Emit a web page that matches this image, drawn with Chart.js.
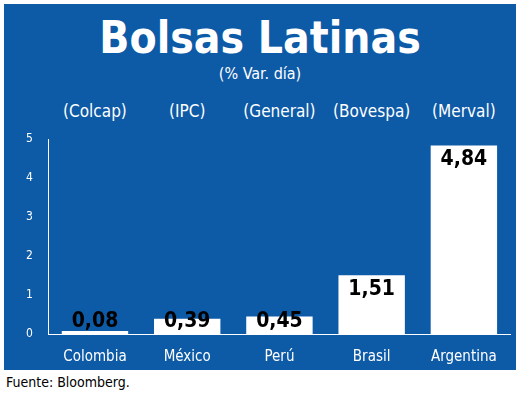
<!DOCTYPE html>
<html><head><meta charset="utf-8">
<script src="https://cdn.jsdelivr.net/npm/chart.js@4/dist/chart.umd.min.js"></script>
<style>
body{margin:0;background:#fff;font-family:"DejaVu Sans Condensed","Liberation Sans",sans-serif}
#box{position:absolute;left:4px;top:4px;width:512px;height:366px;background:#0d5aa7}
.t{position:absolute;width:100%;text-align:center;color:#fff}
#title{top:8px;font-size:44px;font-weight:bold}
#sub{top:60px;font-size:16px}
.idx{position:absolute;top:97px;color:#fff;font-size:17px;transform:translateX(-50%)}
#wrap{position:absolute;left:0;top:120px;width:512px;height:248px}
#src{position:absolute;left:6px;top:374px;font-size:14px;color:#000}
</style></head><body>
<div id="box">
<div class="t" id="title">Bolsas Latinas</div>
<div class="t" id="sub">(% Var. día)</div>
<div id="heads"></div>
<div id="wrap"><canvas id="c"></canvas></div>
</div>
<div id="src">Fuente: Bloomberg.</div>
<script>
const categories = ["Colombia", "México", "Perú", "Brasil", "Argentina"];
const indices = ["(Colcap)", "(IPC)", "(General)", "(Bovespa)", "(Merval)"];
const values = [0.08, 0.39, 0.45, 1.51, 4.84];
const yTicks = [0, 1, 2, 3, 4, 5];

const font = '"DejaVu Sans Condensed","Liberation Sans",sans-serif';

const valueLabels = {
  id: 'valueLabels',
  afterDatasetsDraw(chart) {
    const ctx = chart.ctx;
    const base = chart.scales.y.getPixelForValue(0);
    ctx.save();
    ctx.fillStyle = '#000';
    ctx.font = 'bold 21px ' + font;
    ctx.textAlign = 'center';
    ctx.textBaseline = 'middle';
    chart.getDatasetMeta(0).data.forEach((bar, i) => {
      const y = Math.min(bar.y + 14, base - 12);
      ctx.fillText(values[i].toFixed(2).replace('.', ','), bar.x, y);
    });
    ctx.restore();
  }
};

const chart = new Chart(document.getElementById('c'), {
  type: 'bar',
  data: { labels: categories, datasets: [{ data: values, backgroundColor: '#fff', barPercentage: 0.72, categoryPercentage: 1 }] },
  options: {
    responsive: true, maintainAspectRatio: false, animation: false,
    layout: { padding: { left: 14, right: 6, top: 8 } },
    plugins: { legend: { display: false }, tooltip: { enabled: false } },
    scales: {
      x: { grid: { display: false }, border: { color: '#fff', width: 1 },
           ticks: { color: '#fff', font: { family: font, size: 15 }, padding: 6 } },
      y: { min: 0, max: 5, afterBuildTicks: ax => { ax.ticks = yTicks.map(v => ({ value: v })); },
           grid: { display: false }, border: { color: '#fff', width: 1 },
           ticks: { color: '#fff', font: { family: font, size: 12 }, padding: 8 } }
    }
  },
  plugins: [valueLabels]
});

const heads = document.getElementById('heads');
const xs = chart.scales.x;
indices.forEach((s, i) => {
  const d = document.createElement('div');
  d.className = 'idx';
  d.textContent = s;
  d.style.left = xs.getPixelForValue(i) + 'px';
  heads.appendChild(d);
});
</script>
</body></html>
